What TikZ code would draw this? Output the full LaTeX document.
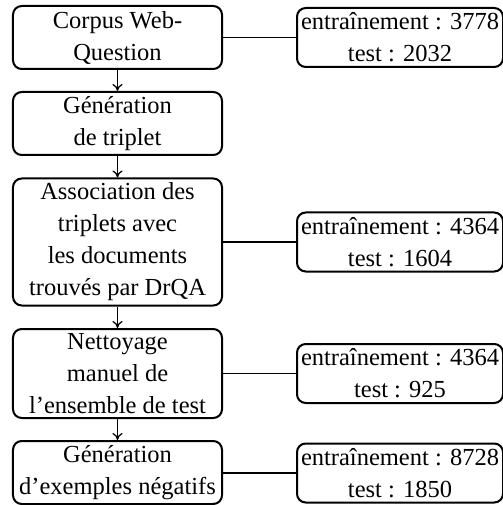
\documentclass[tikz,border=0pt]{standalone}
\usepackage{fontspec}
\setmainfont{Liberation Serif}
\usetikzlibrary{arrows.meta}
\begin{document}
\begin{tikzpicture}[x=0.4pt,y=-0.4pt,
  txt/.style={font=\fontsize{9.8pt}{12.8pt}\selectfont},
  stepbox/.style={txt, draw, line width=0.8pt, rounded corners=3.5pt, align=center, inner sep=0pt, minimum width=83.6pt},
  countbox/.style={txt, draw, line width=0.8pt, rounded corners=3.5pt, align=center, inner sep=0pt, minimum width=82.4pt, minimum height=23.6pt},
  flow/.style={-{To[length=2.8pt,width=4pt]}, line width=0.5pt},
  link/.style={line width=0.5pt}]
\useasboundingbox (0,0) rectangle (502,505);
\node[stepbox, minimum height=25.2pt] (b1) at (117.5,37.5) {Corpus Web-\\Question};
\node[stepbox, minimum height=25.2pt] (b2) at (117.5,123.5) {Génération\\de triplet};
\node[stepbox, minimum height=50.8pt] (b3) at (117.5,242) {Association des\\triplets avec\\les documents\\trouvés par DrQA};
\node[stepbox, minimum height=35.6pt] (b4) at (117.5,373.5) {Nettoyage\\manuel de\\l’ensemble de test};
\node[stepbox, minimum height=25.2pt] (b5) at (117.5,472.5) {Génération\\d’exemples négatifs};
\node[countbox] (r1) at (400,37.5) {entraînement~: 3778\\test~: 2032};
\node[countbox] (r2) at (400,242) {entraînement~: 4364\\test~: 1604};
\node[countbox] (r3) at (400,373.5) {entraînement~: 4364\\test~: 925};
\node[countbox] (r4) at (400,473) {entraînement~: 8728\\test~: 1850};
\draw[flow] (b1) -- (b2);
\draw[flow] (b2) -- (b3);
\draw[flow] (b3) -- (b4);
\draw[flow] (b4) -- (b5);
\draw[link] (b1.east) -- (r1.west);
\draw[link] (b3.east) -- (r2.west);
\draw[link] (b4.east) -- (r3.west);
\draw[link] (r4.west -| b5.east) -- (r4.west);
\end{tikzpicture}
\end{document}
